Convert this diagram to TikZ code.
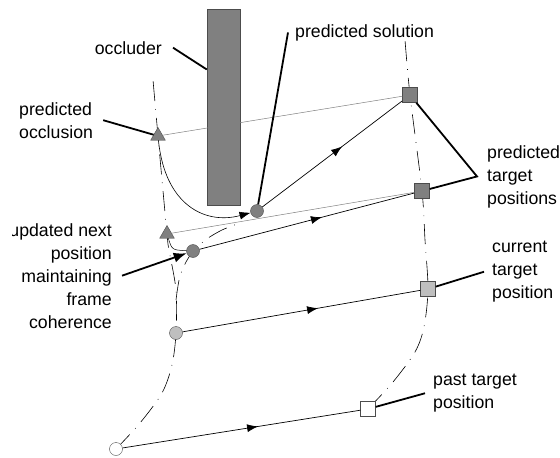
\documentclass[tikz,border=0pt]{standalone}
\usepackage{fontspec}
\setmainfont{Liberation Sans}
\usetikzlibrary{shapes.geometric,positioning,decorations.markings,arrows.meta}
\definecolor{darkobj}{gray}{0.5}
\definecolor{lightobj}{gray}{0.75}
\definecolor{edge}{gray}{0.3}

\begin{document}
\begin{tikzpicture}
[x=1pt,y=-1pt,>=Latex,
occl/.style = {draw=edge, regular polygon, regular polygon sides=3, fill=darkobj, inner sep=0pt, minimum size=17pt},
posdot/.style = {draw=edge, circle, inner sep=0pt, minimum size=13pt},
tgt/.style = {draw=edge, rectangle, inner sep=0pt, minimum size=15pt},
lbl/.style = {inner sep=0pt, font=\fontsize{17.7}{23}\selectfont},
callout/.style = {line width=1.8pt},
traj/.style = {line width=0.6pt, dash pattern=on 20pt off 8pt on 0.8pt off 8pt},
guide/.style = {gray, line width=0.5pt},
flow/.style = {line width=0.7pt, postaction={decorate}, decoration={markings, mark=at position 0.57 with {\arrow{Latex[length=11pt,width=8pt]}}}},]
\useasboundingbox (0,0) rectangle (560,458);
% dash-dot trajectories
\draw[traj] plot[smooth] coordinates {(116,449) (140,423) (162,393) (172,365) (176,333) (176,290) (169,250) (167,234) (158,136) (153,80)};
\draw[traj] plot[smooth] coordinates {(176,300) (180,276) (189,257) (204,241) (222,230) (240,223)};
\draw[traj] plot[smooth, tension=0.5] coordinates {(368,409) (393,382) (415,352) (424,327) (428,289) (425,240) (422,191) (410,95) (405,40)};
% occluder
\node (occluder) at (223.5,107)[draw=edge, fill=darkobj, minimum width=33pt, minimum height=196pt, inner sep=0pt] {};
% positions
\node (past) at (116,449)[posdot, fill=white] {};
\node (cur) at (176,333)[posdot, fill=lightobj] {};
\node (upd) at (193,251)[posdot, fill=darkobj] {};
\node (sol) at (257,211)[posdot, fill=darkobj] {};
\node (occ1) at (158,136)[occl] {};
\node (occ2) at (167,234)[occl] {};
\node (pasttgt) at (368,409)[tgt, fill=white] {};
\node (curtgt) at (428,289)[tgt, fill=lightobj] {};
\node (predtgt2) at (422,191)[tgt, fill=darkobj] {};
\node (predtgt1) at (410,95)[tgt, fill=darkobj] {};
% motion
\draw[flow] (past) -- (pasttgt);
\draw[flow] (cur) -- (curtgt);
\draw[flow] (upd) -- (predtgt2);
\draw[flow] (sol) -- (predtgt1);
\draw[guide] (occ1) -- (predtgt1);
\draw[guide] (occ2) -- (predtgt2);
\draw[line width=0.6pt, -{Latex[length=11pt,width=8pt]}] (occ1) .. controls (165,205) and (205,225) .. (sol);
\draw[line width=0.5pt] (occ2) .. controls (172,250) .. (upd);
% labels
\node (occlbl) at (162,54)[lbl, anchor=base east] {occluder};
\node (sollbl) at (295,37)[lbl, anchor=base west] {predicted solution};
\node (occllbl) at (19,102)[lbl, anchor=north west, align=left] {predicted\\occlusion};
\node (predlbl) at (487,145)[lbl, anchor=north west, align=left] {predicted\\target\\positions};
\node (curlbl) at (492,241)[lbl, anchor=north west, align=left] {current\\target\\position};
\node (pastlbl) at (433,374)[lbl, anchor=north west, align=left] {past target\\position};
\begin{scope}
\clip (12,200) rectangle (140,350);
\node (updlbl) at (112,223)[lbl, anchor=north east, align=right] {updated next\\position\\maintaining\\frame\\coherence};
\end{scope}
% callouts
\draw[callout] ([xshift=11pt]occlbl.east) -- (occluder.114);
\draw[callout] ([xshift=-7pt]sollbl.west) -- (sol);
\draw[callout] ([xshift=10pt]occllbl.east) -- (occ1);
\draw[callout] (predtgt1) -- ([xshift=-10pt]predlbl.west) -- (predtgt2);
\draw[callout] (curtgt) -- ([xshift=-8pt]curlbl.west);
\draw[callout] (pasttgt) -- ([xshift=-8pt]pastlbl.west);
\draw[callout, -{Latex[length=13pt,width=10pt]}] ([xshift=10pt]updlbl.east) -- (upd);
\end{tikzpicture}
\end{document}
